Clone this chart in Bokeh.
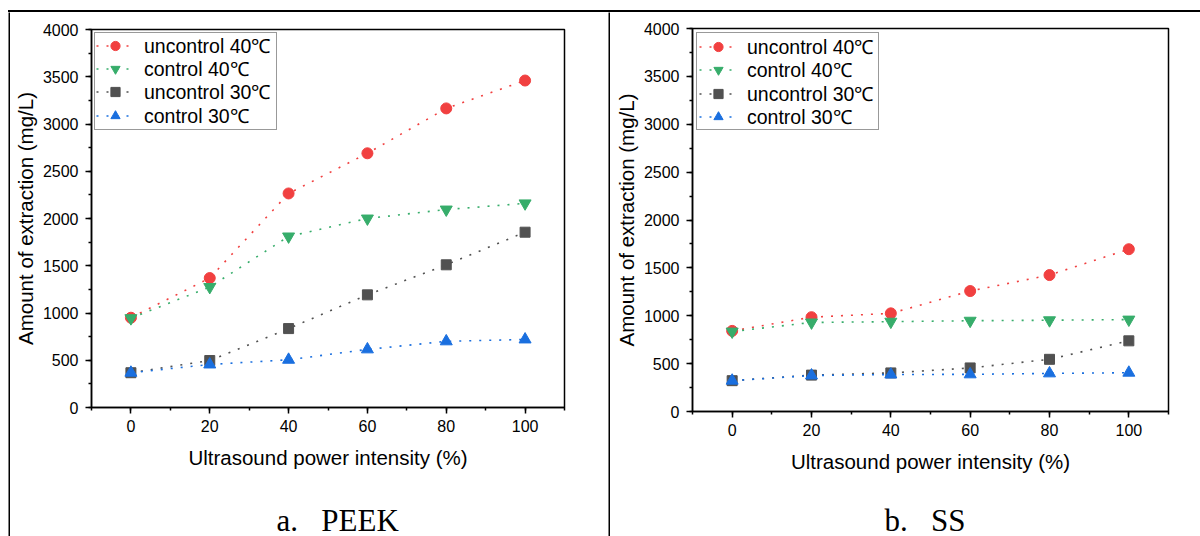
from bokeh.plotting import figure
from bokeh.layouts import row, column
from bokeh.models import (Range1d, SingleIntervalTicker, Legend, LegendItem,
                          Label, Spacer)
from bokeh.embed import file_html
from bokeh.resources import INLINE

# ---------------- data ----------------
power = [0, 20, 40, 60, 80, 100]
series_labels = ["uncontrol 40\u2103", "control 40\u2103",
                 "uncontrol 30\u2103", "control 30\u2103"]

peek_uncontrol_40 = [950, 1370, 2265, 2690, 3165, 3460]
peek_control_40 = [945, 1275, 1810, 2000, 2095, 2160]
peek_uncontrol_30 = [368, 497, 835, 1192, 1510, 1855]
peek_control_30 = [368, 455, 505, 615, 700, 720]

ss_uncontrol_40 = [842, 985, 1025, 1258, 1425, 1695]
ss_control_40 = [835, 930, 938, 948, 953, 960]
ss_uncontrol_30 = [322, 380, 403, 455, 545, 738]
ss_control_30 = [322, 376, 386, 388, 398, 405]

captions = ["a.\u00a0\u00a0\u00a0PEEK", "b.\u00a0\u00a0\u00a0SS"]

colors = ["#F14040", "#37AD6B", "#515151", "#1A6FDF"]
markers = ["circle", "inverted_triangle", "square", "triangle"]
marker_sizes = [11, 12, 10, 12]

SANS = "Liberation Sans"
ROW_ITEM_H = 27      # height Bokeh gives one legend row at this font size
ROW_STEP = 23.4      # distance between legend rows in the reference


def bar(w, h):
    f = figure(width=w, height=h, toolbar_location=None, output_backend="svg",
               x_range=(0, 1), y_range=(0, 1), min_border=0,
               x_axis_location=None, y_axis_location=None)
    f.grid.visible = False
    f.outline_line_color = None
    f.background_fill_color = "black"
    f.border_fill_color = "black"
    return f


def caption_fig(w, h, text, x0):
    f = figure(width=w, height=h, toolbar_location=None, output_backend="svg",
               x_range=Range1d(0, w), y_range=Range1d(0, h), min_border=0,
               x_axis_location=None, y_axis_location=None)
    f.grid.visible = False
    f.outline_line_color = None
    f.background_fill_color = "white"
    f.border_fill_color = "white"
    f.add_layout(Label(x=x0, y=16, text=text, text_align="left",
                       text_baseline="alphabetic",
                       text_font="Liberation Serif", text_font_size="31px",
                       text_color="black"))
    return f


def panel(width, height, borders, data, box_margin, row_x, first_row_center):
    bl, br, bt, bb = borders
    frame_h = height - bt - bb
    p = figure(width=width, height=height, toolbar_location=None,
               output_backend="svg",
               x_range=Range1d(-10, 110), y_range=Range1d(0, 4000),
               min_border_left=bl, min_border_right=br,
               min_border_top=bt, min_border_bottom=bb)
    p.grid.visible = False
    p.outline_line_color = "black"
    p.outline_line_width = 1.5
    p.background_fill_color = "white"
    p.border_fill_color = "white"

    p.xaxis.ticker = SingleIntervalTicker(interval=20, num_minor_ticks=2)
    p.yaxis.ticker = SingleIntervalTicker(interval=500, num_minor_ticks=2)
    p.xaxis.axis_label = "Ultrasound power intensity (%)"
    p.yaxis.axis_label = "Amount of extraction (mg/L)"
    for ax in (p.xaxis, p.yaxis):
        ax.axis_line_color = "black"
        ax.axis_line_width = 1.5
        ax.major_tick_line_color = "black"
        ax.major_tick_line_width = 1.5
        ax.major_tick_out = 6
        ax.major_tick_in = 0
        ax.minor_tick_line_color = "black"
        ax.minor_tick_line_width = 1.5
        ax.minor_tick_out = 3
        ax.minor_tick_in = 0
        ax.major_label_text_font = SANS
        ax.major_label_text_font_size = "16px"
        ax.major_label_text_color = "black"
        ax.axis_label_text_font = SANS
        ax.axis_label_text_font_size = "20.5px"
        ax.axis_label_text_font_style = "normal"
        ax.axis_label_text_color = "black"
    p.xaxis.major_label_standoff = 6
    p.xaxis.axis_label_standoff = 11
    p.yaxis.major_label_standoff = 7
    p.yaxis.axis_label_standoff = 3

    # legend frame (an invisible entry that only carries the box)
    dummy = p.scatter(x=[], y=[], marker="circle", size=1,
                      fill_alpha=0, line_alpha=0)
    box = Legend(items=[LegendItem(label="\u00a0", renderers=[dummy])],
                 location="top_left", margin=box_margin, padding=0,
                 spacing=0, glyph_width=170, glyph_height=96,
                 label_height=96, label_width=11, label_standoff=0,
                 label_text_font=SANS, label_text_font_size="10px",
                 border_line_color="#333333", border_line_width=1,
                 background_fill_color="white", background_fill_alpha=1)
    p.add_layout(box)

    for i, (vals, lab, col, mk, ms) in enumerate(
            zip(data, series_labels, colors, markers, marker_sizes)):
        lr = p.line(power, vals, line_color=col, line_width=1.6,
                    line_dash="2 8")
        sr = p.scatter(power, vals, marker=mk, size=ms, fill_color=col,
                       line_color=col)
        center_from_top = first_row_center + i * ROW_STEP
        vy = frame_h - center_from_top - ROW_ITEM_H / 2
        leg = Legend(items=[LegendItem(label=lab, renderers=[lr, sr])],
                     location=(row_x, vy), padding=0, spacing=0, margin=0,
                     glyph_width=38, glyph_height=23, label_height=23,
                     label_standoff=10, label_text_font=SANS,
                     label_text_font_size="19.5px", label_text_color="black",
                     border_line_color=None, background_fill_alpha=0)
        p.add_layout(leg)
    return p


left = panel(598, 478, (79, 44, 17, 83),
             [peek_uncontrol_40, peek_control_40, peek_uncontrol_30,
              peek_control_30], 3, 5, 16)
right = panel(590, 478, (82, 32, 16, 79),
              [ss_uncontrol_40, ss_control_40, ss_uncontrol_30,
               ss_control_30], 4, 7, 18.5)

left_cap = caption_fig(598, 46, captions[0], 234)
right_cap = caption_fig(590, 46, captions[1], 238)

top_line = Spacer(width=1192, height=2, styles={"background-color": "black"})

layout = column(
    Spacer(width=1200, height=10),
    row(Spacer(width=8, height=2), top_line, spacing=0),
    row(Spacer(width=8, height=524), bar(2, 524),
        column(left, left_cap, spacing=0),
        bar(2, 524),
        column(right, right_cap, spacing=0),
        spacing=0),
    spacing=0,
)

open("out.html", "w").write(file_html(layout, INLINE))
